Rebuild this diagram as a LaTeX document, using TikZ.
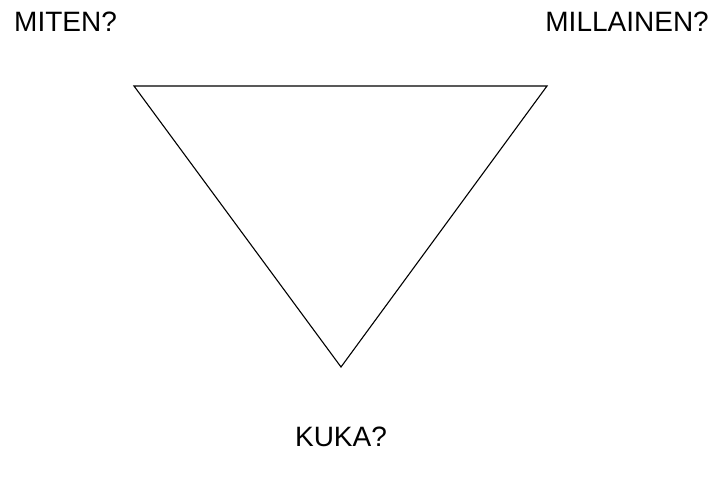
\documentclass[tikz,border=0pt]{standalone}
\usepackage{fontspec}
\setmainfont{Liberation Sans}
\begin{document}
\begin{tikzpicture}[x=1pt,y=-1pt,
  lbl/.style={inner sep=0pt,font=\fontsize{28}{33}\selectfont},
  tri/.style={draw=black,line width=1.1pt,line join=miter}]
\useasboundingbox[fill=white] (0,0) rectangle (716,477);
\coordinate (A) at (134,86);
\coordinate (B) at (547,86);
\coordinate (C) at (341,367);
\draw[tri] (A) -- (B) -- (C) -- cycle;
\node[lbl,anchor=base west] (miten) at (14,31) {MITEN?};
\node[lbl,anchor=base east] (millainen) at (709,31) {MILLAINEN?};
\node[lbl,anchor=base] (kuka) at (341,446) {KUKA?};
\end{tikzpicture}
\end{document}
